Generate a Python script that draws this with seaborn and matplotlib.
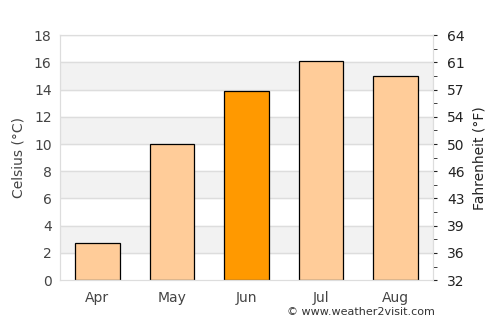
import pandas as pd
import matplotlib
matplotlib.use("Agg")
import matplotlib.pyplot as plt
import seaborn as sns

# Monthly average temperatures
months = ["Apr", "May", "Jun", "Jul", "Aug"]
celsius = [2.7, 10.0, 13.9, 16.1, 15.0]
bar_colors = ["#FFCC99", "#FFCC99", "#FF9900", "#FFCC99", "#FFCC99"]
c_ticks = [0, 2, 4, 6, 8, 10, 12, 14, 16, 18]
f_labels = ["32", "36", "39", "43", "46", "50", "54", "57", "61", "64"]

df = pd.DataFrame({"month": months, "celsius": celsius})

sns.set_style("white")
plt.rcParams["font.family"] = ["DejaVu Sans"]

fig = plt.figure(figsize=(5, 3.25), dpi=100)
ax = fig.add_axes([0.12, 0.138, 0.746, 0.754])

# Alternating background bands
for lo in [2, 6, 10, 14]:
    ax.axhspan(lo, lo + 2, color="#F2F2F2", zorder=0)
for y in c_ticks[1:]:
    ax.axhline(y, color="#DDDDDD", lw=1, zorder=0.5)

sns.barplot(data=df, x="month", y="celsius", hue="month", palette=bar_colors,
            saturation=1, width=0.6, edgecolor="black", linewidth=0.9,
            legend=False, ax=ax, zorder=2)

ax.set_xlim(-0.5, 4.5)
ax.set_ylim(0, 18)
ax.set_yticks(c_ticks)
ax.set_xlabel("")
ax.set_ylabel("Celsius (°C)", color="#444444", fontsize=10, labelpad=6)
ax.tick_params(axis="both", length=0, colors="#444444", labelsize=10, pad=8)
ax.tick_params(axis="y", pad=6)
for s in ax.spines.values():
    s.set_color("#DDDDDD")

ax2 = ax.twinx()
ax2.set_ylim(0, 18)
ax2.set_yticks(c_ticks)
ax2.set_yticklabels(f_labels)
ax2.set_yticks(range(1, 18, 2), minor=True)
ax2.tick_params(axis="y", which="major", length=3, colors="#222222", labelsize=10, pad=7)
ax2.tick_params(axis="y", which="minor", length=3, color="#222222")
ax2.set_ylabel("Fahrenheit (°F)", color="#222222", fontsize=10, labelpad=6)
for s in ax2.spines.values():
    s.set_color("#DDDDDD")

fig.text(0.87, 0.025, "© www.weather2visit.com", ha="right", va="bottom",
         fontsize=8, color="#333333")

fig.savefig("out.png", dpi=100)
